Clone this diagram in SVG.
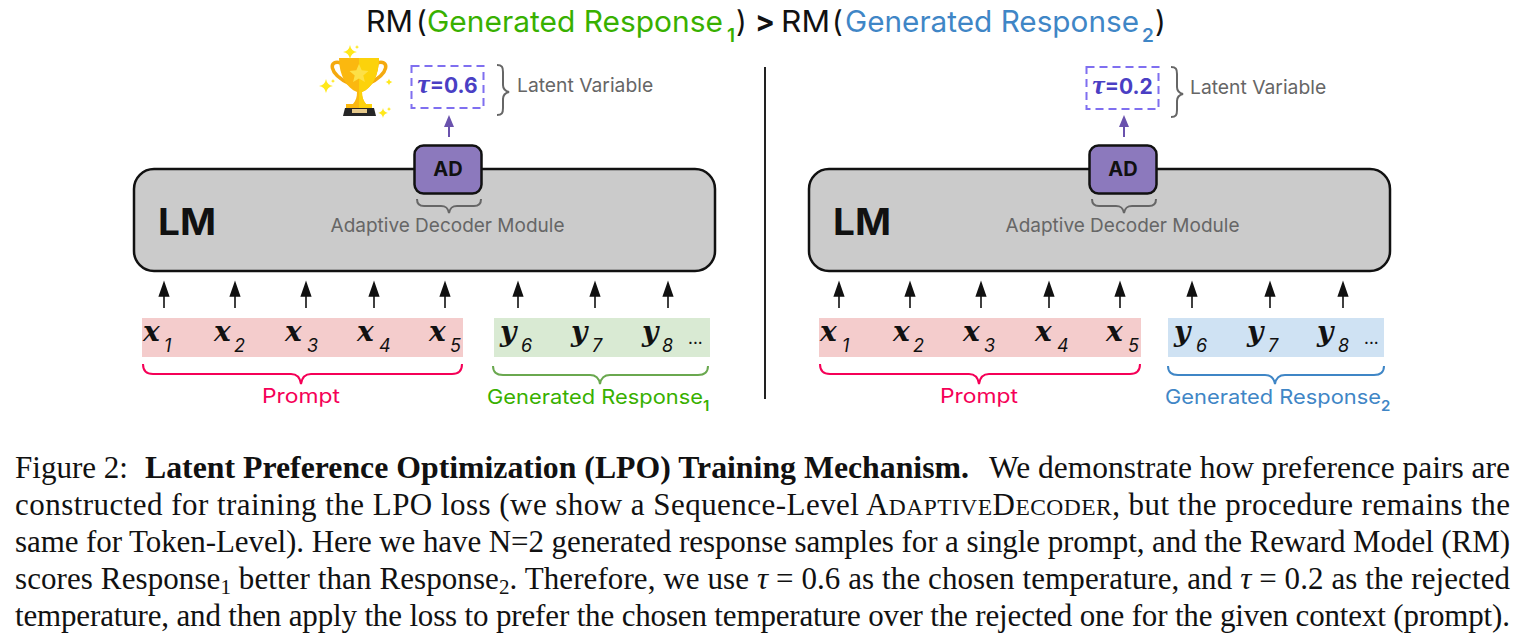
<svg xmlns="http://www.w3.org/2000/svg" width="1524" height="644" viewBox="0 0 1524 644">
<style>
.s{font-family:Inter,"Noto Sans",sans-serif}
.title{font-size:29.5px;fill:#111}
.g{fill:#38b000}.b{fill:#3f86c6}.p{fill:#f50057}
.gl{fill:#666}
.lab{font-size:19px}
.lv{font-size:19.300px}
.lm{font-size:37px;font-weight:700;fill:#111}
.ad{font-size:20px;font-weight:700;fill:#111}
.tau{font-size:21px;font-weight:700;fill:#4a3fc4}
.tg{font-family:"Liberation Serif",serif;font-style:italic;font-weight:700;font-size:28px}
.box{fill:#cbcbcb;stroke:#111;stroke-width:2.5}
.adb{fill:#8c79bd;stroke:#111;stroke-width:2.5}
.dash{fill:#fff;stroke:#7f6ff0;stroke-width:2;stroke-dasharray:8 5}
.br{fill:none;stroke-width:2}
.x{font-family:"DejaVu Serif",serif;font-weight:700;font-style:italic;font-size:28px;fill:#111}
.n{font-family:Inter,"Noto Sans",sans-serif;font-style:italic;font-size:18px;fill:#111}
.d{font-family:Inter,"Noto Sans",sans-serif;font-size:17px;fill:#111}
.c{font-family:"Liberation Serif",serif;font-size:31px;fill:#111}
.cb{font-weight:700}
.sc{font-size:23.500px}
.sub{font-size:21px}
.i{font-style:italic}
.tsub{font-size:19px;font-weight:600}
</style>
<defs>
<g id="trophy">
<path d="M341 63C329 59 327 73 350 84M377 63C389 59 391 73 368 84" fill="none" stroke="#f4a90f" stroke-width="3.500"/>
<path d="M339 58H379C379 76 372 88 362 92C362 97 363 100 366 104H372V108H346V104H353C356 100 357 97 357 92C347 88 339 76 339 58z" fill="#fbb80f"/>
<path d="M359 58H379C379 76 372 88 362 92C362 97 363 100 366 104H372V108H359z" fill="#fcd20b"/>
<path d="M359 64l2.700 6.300 6.800 .6-5.200 4.500 1.600 6.700-5.900-3.500-5.900 3.500 1.600-6.700-5.200-4.500 6.800-.6z" fill="#fde047"/>
<path d="M345 108H374L376 116H343z" fill="#262626"/>
<path d="M352 109h15v4h-15z" fill="#e6c98a"/>
</g>
<path id="spark" d="M0-7Q1-1 7 0Q1 1 0 7Q-1 1-7 0Q-1-1 0-7z" fill="#ffe81a"/>
<path id="up" d="M0 308V292M0 283l-4.500 13h9z" stroke="#111" stroke-width="1.600" fill="#111"/>
</defs>
<g id="title" class="s title">
<text x="366" y="32" textLength="47" lengthAdjust="spacingAndGlyphs">RM</text><text x="416" y="32">(</text>
<text class="g" x="427" y="32" textLength="296" lengthAdjust="spacingAndGlyphs">Generated Response</text><text class="g tsub" x="727" y="42">1</text>
<text x="736" y="32">)</text><text x="755" y="32" font-weight="700">&gt;</text>
<text x="781" y="32" textLength="49" lengthAdjust="spacingAndGlyphs">RM</text><text x="832" y="32">(</text>
<text class="b" x="845" y="32" textLength="294" lengthAdjust="spacingAndGlyphs">Generated Response</text><text class="b tsub" x="1142" y="42">2</text>
<text x="1155" y="32">)</text>
</g>
<path id="divider" d="M765 67V399" stroke="#222" stroke-width="2" fill="none"/>
<g id="trophy-icon"><use href="#trophy"/><use href="#spark" x="350" y="52"/><use href="#spark" x="326" y="86"/><use href="#spark" transform="translate(383 113) scale(.7)"/><use href="#spark" transform="translate(389 82) scale(.5)"/><use href="#spark" transform="translate(357 47) scale(.3)"/><use href="#spark" transform="translate(389 109) scale(.3)"/><use href="#spark" transform="translate(333 81) scale(.3)"/></g>
<g id="connectors">
<path d="M449 137V120" stroke="#6a52ad" stroke-width="2"/><path d="M449 115l-5 12h10z" fill="#6a52ad"/>
<path d="M1124 137V120" stroke="#6a52ad" stroke-width="2"/><path d="M1124 115l-5 12h10z" fill="#6a52ad"/>
<use href="#up" x="164"/><use href="#up" x="235"/><use href="#up" x="306"/><use href="#up" x="374"/><use href="#up" x="445"/><use href="#up" x="518"/><use href="#up" x="595"/><use href="#up" x="668"/>
<use href="#up" x="839"/><use href="#up" x="910"/><use href="#up" x="981"/><use href="#up" x="1049"/><use href="#up" x="1120"/><use href="#up" x="1192"/><use href="#up" x="1270"/><use href="#up" x="1343"/>
</g>
<g id="lm-left"><rect class="box" x="134" y="169" width="581" height="102" rx="20"/><text class="s lm" x="158" y="235" textLength="58" lengthAdjust="spacingAndGlyphs">LM</text><text class="s lab gl" x="447.500" y="232" text-anchor="middle">Adaptive Decoder Module</text>
<path class="br" stroke="#666" d="M417 199c0 5 2 7 7 7h17c5 0 7 2 8 7c1-5 3-7 8-7h17c5 0 7-2 7-7"/></g>
<g id="ad-left"><rect class="adb" x="414.500" y="145.500" width="67" height="48" rx="9"/><text class="s ad" x="448" y="176" text-anchor="middle">AD</text></g>
<g id="tau-left"><rect class="dash" x="411.500" y="66" width="72" height="42"/><text class="s tau" x="447.500" y="93" text-anchor="middle"><tspan class="tg">τ</tspan>=0.6</text></g>
<g id="lv-left"><path class="br" stroke="#666" d="M497 65c5 0 6 2 6 7v13c0 4 2 6 6 7c-4 1-6 3-6 7v9c0 5-1 7-6 7"/><text class="s lv gl" x="517" y="92">Latent Variable</text></g>
<g id="lm-right"><rect class="box" x="809" y="169" width="581" height="102" rx="20"/><text class="s lm" x="833" y="235" textLength="58" lengthAdjust="spacingAndGlyphs">LM</text><text class="s lab gl" x="1122.500" y="232" text-anchor="middle">Adaptive Decoder Module</text>
<path class="br" stroke="#666" d="M1092 199c0 5 2 7 7 7h17c5 0 7 2 8 7c1-5 3-7 8-7h17c5 0 7-2 7-7"/></g>
<g id="ad-right"><rect class="adb" x="1089.500" y="145.500" width="67" height="48" rx="9"/><text class="s ad" x="1123" y="176" text-anchor="middle">AD</text></g>
<g id="tau-right"><rect class="dash" x="1086.500" y="67" width="72" height="42"/><text class="s tau" x="1122.500" y="94" text-anchor="middle"><tspan class="tg">τ</tspan>=0.2</text></g>
<g id="lv-right"><path class="br" stroke="#666" d="M1171 67c5 0 6 2 6 7v13c0 4 2 6 6 7c-4 1-6 3-6 7v9c0 5-1 7-6 7"/><text class="s lv gl" x="1190" y="94">Latent Variable</text></g>
<g id="tokens-left">
<rect x="142" y="318" width="321" height="39" fill="#f4cccc"/><rect x="494" y="318" width="216" height="39" fill="#d9ead3"/>
<text class="x" x="143" y="341">x</text><text class="n" x="164" y="352">1</text>
<text class="x" x="214" y="341">x</text><text class="n" x="234" y="352">2</text>
<text class="x" x="285" y="341">x</text><text class="n" x="307" y="352">3</text>
<text class="x" x="357" y="341">x</text><text class="n" x="379" y="352">4</text>
<text class="x" x="429" y="341">x</text><text class="n" x="450" y="352">5</text>
<text class="x" x="500" y="341">y</text><text class="n" x="521" y="352">6</text>
<text class="x" x="571" y="341">y</text><text class="n" x="592" y="352">7</text>
<text class="x" x="642" y="341">y</text><text class="n" x="662" y="352">8</text>
<text class="d" x="688" y="344">...</text>
</g>
<g id="tokens-right">
<rect x="819" y="318" width="322" height="39" fill="#f4cccc"/><rect x="1168" y="318" width="216" height="39" fill="#cfe2f3"/>
<text class="x" x="820" y="341">x</text><text class="n" x="842" y="352">1</text>
<text class="x" x="893" y="341">x</text><text class="n" x="913" y="352">2</text>
<text class="x" x="963" y="341">x</text><text class="n" x="984" y="352">3</text>
<text class="x" x="1035" y="341">x</text><text class="n" x="1057" y="352">4</text>
<text class="x" x="1106" y="341">x</text><text class="n" x="1128" y="352">5</text>
<text class="x" x="1174" y="341">y</text><text class="n" x="1196" y="352">6</text>
<text class="x" x="1247" y="341">y</text><text class="n" x="1268" y="352">7</text>
<text class="x" x="1317" y="341">y</text><text class="n" x="1338" y="352">8</text>
<text class="d" x="1364" y="344">...</text>
</g>
<g id="prompt-left"><path class="br" stroke="#f50057" d="M143 364c0 7 3 10 10 10h138c6 0 9 3 10 10c1-7 4-10 10-10h141c7 0 10-3 10-10"/><text class="s p" x="262" y="403" font-size="20" textLength="78" lengthAdjust="spacingAndGlyphs">Prompt</text></g>
<g id="response-left"><path class="br" stroke="#6aa84f" d="M493 366c0 6 3 9 10 9h87c6 0 9 3 10 9c1-6 4-9 10-9h88c7 0 10-3 10-9"/><text class="s g" x="487" y="404" font-size="20"><tspan textLength="216" lengthAdjust="spacingAndGlyphs">Generated Response</tspan><tspan font-size="15" font-weight="600" dy="7">1</tspan></text></g>
<g id="prompt-right"><path class="br" stroke="#f50057" d="M820 364c0 7 3 10 10 10h139c6 0 9 3 10 10c1-7 4-10 10-10h141c7 0 10-3 10-10"/><text class="s p" x="940" y="403" font-size="20" textLength="78" lengthAdjust="spacingAndGlyphs">Prompt</text></g>
<g id="response-right"><path class="br" stroke="#3f86c6" d="M1168 366c0 6 3 9 10 9h87c6 0 9 3 10 9c1-6 4-9 10-9h89c7 0 10-3 10-9"/><text class="s b" x="1165" y="404" font-size="20"><tspan textLength="216" lengthAdjust="spacingAndGlyphs">Generated Response</tspan><tspan font-size="15" font-weight="600" dy="7">2</tspan></text></g>
<g id="caption">
<text class="c" x="15" y="478" textLength="113" lengthAdjust="spacingAndGlyphs">Figure 2:</text>
<text class="c cb" x="145" y="478" textLength="824" lengthAdjust="spacingAndGlyphs">Latent Preference Optimization (LPO) Training Mechanism.</text>
<text class="c" x="989" y="478" textLength="521" lengthAdjust="spacingAndGlyphs">We demonstrate how preference pairs are</text>
<text class="c" x="15" y="515" textLength="1495" lengthAdjust="spacing">constructed for training the LPO loss (we show a Sequence-Level A<tspan class="sc">DAPTIVE</tspan>D<tspan class="sc">ECODER</tspan>, but the procedure remains the</text>
<text class="c" x="15" y="552" textLength="1495" lengthAdjust="spacing">same for Token-Level). Here we have N=2 generated response samples for a single prompt, and the Reward Model (RM)</text>
<text class="c" x="15" y="589" textLength="1495" lengthAdjust="spacing">scores Response<tspan class="sub" dy="5">1</tspan><tspan dy="-5"> better than Response</tspan><tspan class="sub" dy="5">2</tspan><tspan dy="-5">. Therefore, we use </tspan><tspan class="i">τ</tspan> = 0.6 as the chosen temperature, and <tspan class="i">τ</tspan> = 0.2 as the rejected</text>
<text class="c" x="15" y="626" textLength="1495" lengthAdjust="spacing">temperature, and then apply the loss to prefer the chosen temperature over the rejected one for the given context (prompt).</text>
</g>
</svg>
